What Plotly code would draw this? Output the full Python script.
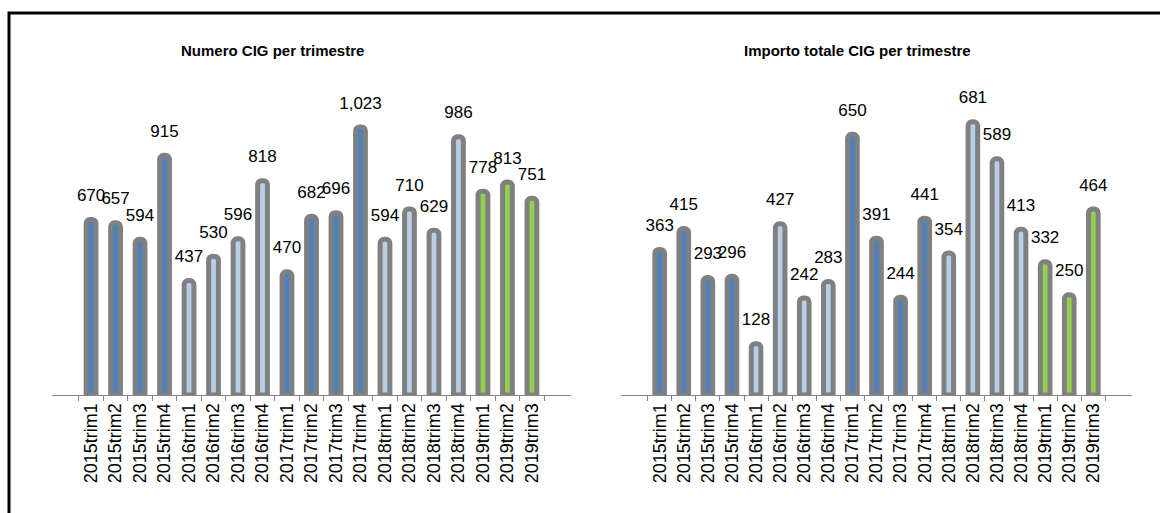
import plotly.graph_objects as go

FONT = "Liberation Sans, Arial, sans-serif"
OUTLINE = "#808080"
YEAR_COLORS = {"2015": "#4F81BD", "2016": "#B9CDE5", "2017": "#4F81BD",
               "2018": "#B9CDE5", "2019": "#92D050"}

quarters = ["2015trim1", "2015trim2", "2015trim3", "2015trim4",
            "2016trim1", "2016trim2", "2016trim3", "2016trim4",
            "2017trim1", "2017trim2", "2017trim3", "2017trim4",
            "2018trim1", "2018trim2", "2018trim3", "2018trim4",
            "2019trim1", "2019trim2", "2019trim3"]
numero_cig = [670, 657, 594, 915, 437, 530, 596, 818, 470, 682, 696, 1023,
              594, 710, 629, 986, 778, 813, 751]
importo_cig = [363, 415, 293, 296, 128, 427, 242, 283, 650, 391, 244, 441,
               354, 681, 589, 413, 332, 250, 464]

titles = ["Numero CIG per trimestre", "Importo totale CIG per trimestre"]

bar_colors = [YEAR_COLORS[q[:4]] for q in quarters]

W, H = 1160, 513


def px_x(v):
    return v / W


def px_y(v):
    return (H - v) / H


fig = go.Figure()

panels = [(numero_cig, "x", "y"), (importo_cig, "x2", "y2")]
for values, xa, ya in panels:
    fig.add_trace(go.Bar(
        x=quarters, y=values, xaxis=xa, yaxis=ya, width=0.4,
        marker=dict(color=bar_colors, line=dict(color=OUTLINE, width=5), cornerradius=4),
        cliponaxis=False, hoverinfo="x+y", showlegend=False,
    ))
    # value labels above the bars
    fig.add_trace(go.Scatter(
        x=quarters, y=values, xaxis=xa, yaxis=ya, mode="markers+text",
        marker=dict(size=21, opacity=0),
        text=[f"{v:,}" for v in values], textposition="top center",
        textfont=dict(family=FONT, size=17, color="black"),
        cliponaxis=False, hoverinfo="skip", showlegend=False,
    ))

xcommon = dict(type="category", showgrid=False, zeroline=False, showline=True,
               linecolor="#868686", linewidth=1, ticks="outside", ticklen=5,
               tickcolor="#868686", tickson="boundaries", tickangle=-90,
               tickmode="linear", dtick=1,
               tickfont=dict(family=FONT, size=18, color="black"))
ycommon = dict(showgrid=False, zeroline=False, showline=False, showticklabels=False,
               ticks="")
# inner halves of the tick marks (ticks cross the axis line)
xinner = dict(showgrid=False, zeroline=False, showline=False, showticklabels=False,
              ticks="inside", ticklen=5, tickcolor="#868686", tickmode="array",
              tickvals=[i - 0.5 for i in range(len(quarters) + 1)],
              range=[-0.5, len(quarters) - 0.5])

y_dom = [px_y(395), px_y(95)]
fig.update_layout(
    width=W, height=H, margin=dict(l=0, r=0, t=0, b=0),
    paper_bgcolor="white", plot_bgcolor="white",
    xaxis=dict(domain=[px_x(52), px_x(571)], anchor="y", **xcommon),
    xaxis2=dict(domain=[px_x(621), px_x(1132)], anchor="y2", **xcommon),
    xaxis3=dict(overlaying="x", anchor="y", **xinner),
    xaxis4=dict(overlaying="x2", anchor="y2", **xinner),
    yaxis=dict(domain=y_dom, anchor="x", range=[0, 1145], **ycommon),
    yaxis2=dict(domain=y_dom, anchor="x2", range=[0, 748], **ycommon),
    annotations=[
        dict(text=f"<b>{titles[0]}</b>", x=px_x(272), y=px_y(50), xref="paper", yref="paper",
             xanchor="center", yanchor="middle", showarrow=False,
             font=dict(family=FONT, size=15, color="black")),
        dict(text=f"<b>{titles[1]}</b>", x=px_x(857), y=px_y(50), xref="paper", yref="paper",
             xanchor="center", yanchor="middle", showarrow=False,
             font=dict(family=FONT, size=15, color="black")),
    ],
    shapes=[dict(type="rect", xref="paper", yref="paper", x0=px_x(9), y0=-0.05,
                 x1=1.02, y1=px_y(13), line=dict(color="black", width=3))],
)

fig.write_html("out.html", config={"displayModeBar": False},
               post_script="document.body.style.margin='0';")
